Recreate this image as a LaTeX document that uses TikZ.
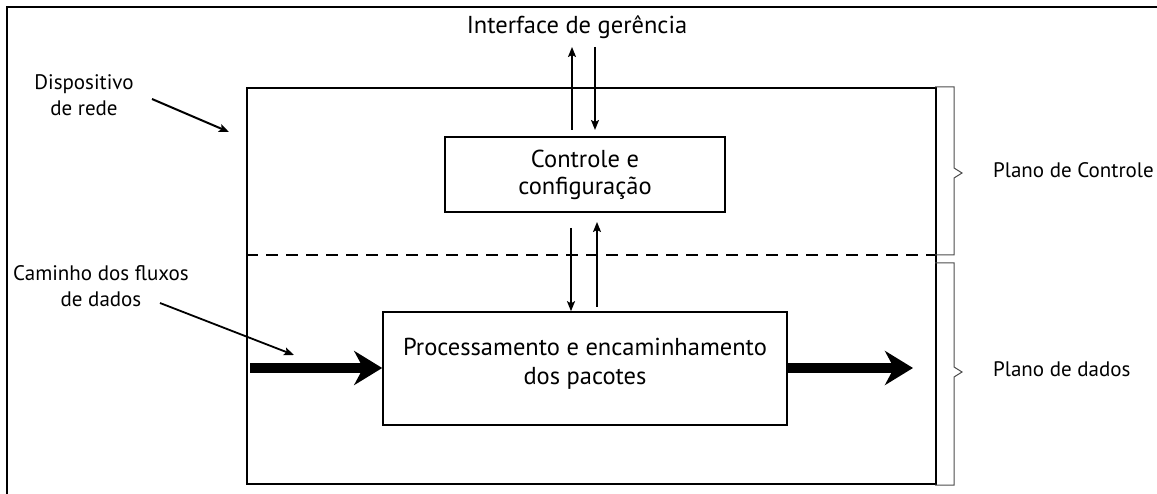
\documentclass[tikz,border=0pt]{standalone}
\usepackage{fontspec}
\setmainfont{PT Sans}
\usetikzlibrary{arrows.meta}
\begin{document}
\begin{tikzpicture}[x=1pt,y=-1pt,
  box/.style={draw,line width=1.6pt,inner sep=0pt,align=center,font=\fontsize{24.5}{29}\selectfont},
  lbl/.style={font=\fontsize{21}{26}\selectfont,align=center,inner sep=0pt},
  thinarr/.style={line width=1.6pt,-{Stealth[length=10pt,width=8pt,inset=2pt]}},
  fatarr/.style={line width=10pt,-{Stealth[length=28pt,width=34pt,inset=9pt]}},
  bracket/.style={line width=1pt,draw=black!70}]
\useasboundingbox (0,0) rectangle (1157,494);
% outer frame (top and left only)
\draw[line width=2.5pt] (7,494) -- (7,7) -- (1157,7);
% device box
\node[box,minimum width=689pt,minimum height=396pt,anchor=north west] (dev) at (246,87) {};
% dashed divider
\coordinate (dl) at (246,255);
\coordinate (dr) at (935,255);
\draw[line width=1.8pt,dash pattern=on 12pt off 8pt] (dl) -- (dr);
% boxes
\node[box,minimum width=280pt,minimum height=75pt,font=\fontsize{24.5}{27}\selectfont] (ctrl) at (585,174.5) {Controle e\\configuração};
\node[box,minimum width=404pt,minimum height=113pt,text depth=14pt] (proc) at (585,368.5) {Processamento e encaminhamento\\dos pacotes};
% labels
\node[lbl,font=\fontsize{24.5}{26}\selectfont] (iface) at (577,27) {Interface de gerência};
\node[lbl] (disp) at (84,95) {Dispositivo\\de rede};
\node[lbl] (cam) at (101,286.5) {Caminho dos fluxos\\de dados};
\node[lbl,anchor=west] (pc) at (993,170) {Plano de Controle};
\node[lbl,anchor=west] (pd) at (993,369) {Plano de dados};
% top arrows
\coordinate (a1s) at (572,130); \coordinate (a1e) at (572,47);
\coordinate (a2s) at (595,47);  \coordinate (a2e) at (595,130);
\draw[thinarr] (a1s) -- (a1e);
\draw[thinarr] (a2s) -- (a2e);
% middle arrows
\coordinate (b1s) at (571,228); \coordinate (b2s) at (597,307); \coordinate (b2e) at (597,222);
\draw[thinarr] (b1s) -- (b1s |- proc.north);
\draw[thinarr] (b2s) -- (b2e);
% annotation arrows
\coordinate (d1) at (152,99);  \coordinate (d2) at (229,132);
\coordinate (c1) at (160,303); \coordinate (c2) at (294,355);
\draw[thinarr,line width=2pt] (d1) -- (d2);
\draw[thinarr,line width=1.8pt] (c1) -- (c2);
% thick data arrows
\coordinate (f1) at (250,368); \coordinate (f2) at (913,368);
\draw[fatarr] (f1) -- (f1 -| proc.west);
\draw[fatarr] (proc.east |- f2) -- (f2);
% brackets
\draw[bracket] (935,87) -- (954,87) -- (954,168) -- (962,173) -- (954,178) -- (954,255) -- (935,255);
\draw[bracket] (935,263) -- (954,263) -- (954,367) -- (962,372) -- (954,377) -- (954,485) -- (935,485);
\end{tikzpicture}
\end{document}
